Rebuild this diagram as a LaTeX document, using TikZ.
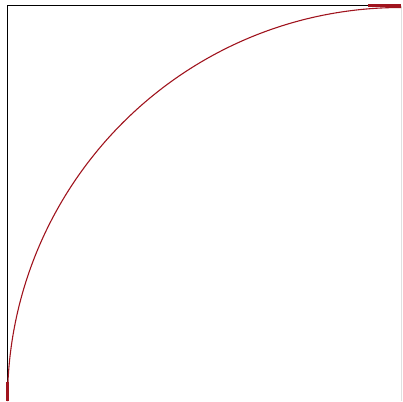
\documentclass[tikz,border=0pt]{standalone}
\definecolor{arcred}{RGB}{160,20,30}
\begin{document}
\begin{tikzpicture}[x=1pt,y=-1pt,
  edge/.style={black,line width=1.8pt},
  arcline/.style={arcred,line width=1.1pt},
  arcend/.style={arcred,line width=3pt}]
\useasboundingbox (0,0) rectangle (403,401);
\draw[black!12,line width=0.6pt] (401.5,6) -- (401.5,401);
\draw[edge] (401,5.5) -- (7.5,5.5) -- (7.5,401);
\draw[arcline] (7.5,401) arc[start angle=180,end angle=270,radius=393.5];
\draw[arcend] (368,6) -- (401,6);
\draw[arcend] (7.5,382) -- (7.5,401);
\end{tikzpicture}
\end{document}
